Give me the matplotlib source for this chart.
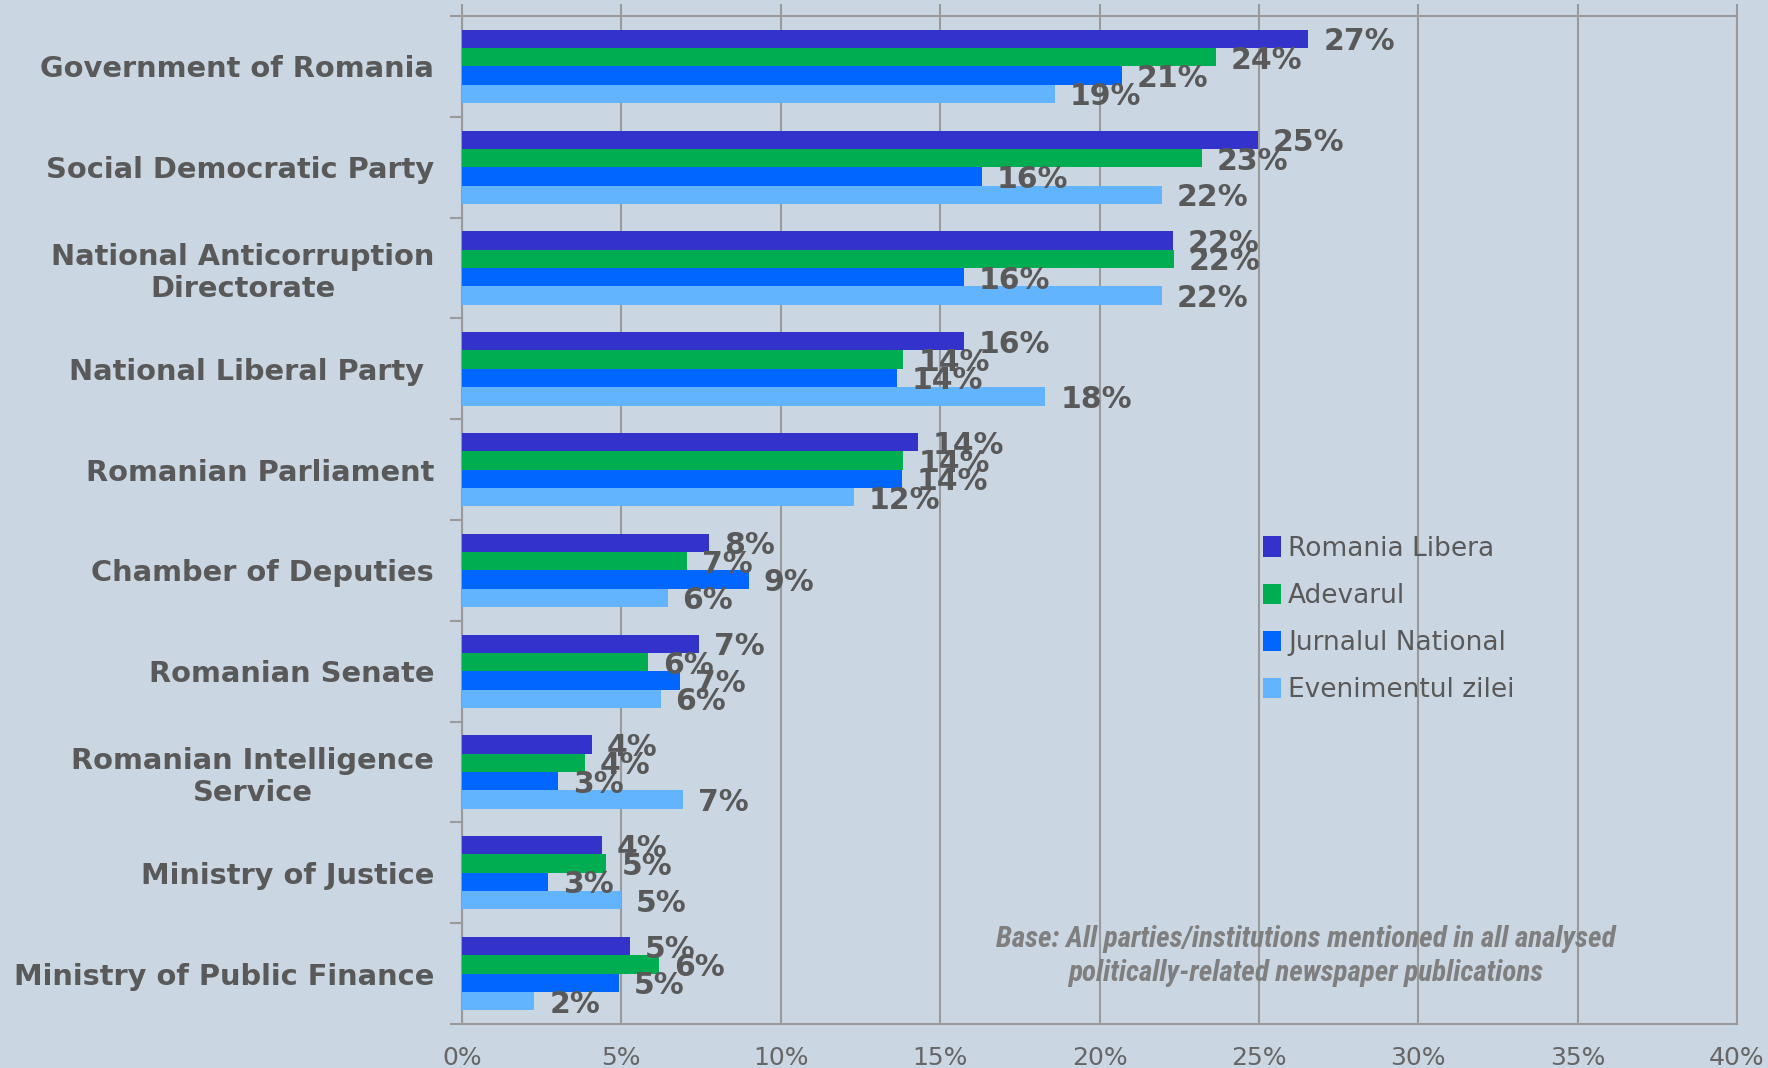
import matplotlib
matplotlib.use("Agg")
import matplotlib.pyplot as plt
import numpy as np
from matplotlib.patches import Patch
from matplotlib import font_manager as fm

categories = ["Government of Romania", "Social Democratic Party",
              "National Anticorruption\nDirectorate", "National Liberal Party ",
              "Romanian Parliament", "Chamber of Deputies", "Romanian Senate",
              "Romanian Intelligence\nService", "Ministry of Justice",
              "Ministry of Public Finance"]
series_names = ["Romania Libera", "Adevarul", "Jurnalul National", "Evenimentul zilei"]
romania_libera = [26.55, 24.96, 22.3, 15.75, 14.3, 7.75, 7.43, 4.07, 4.39, 5.27]
adevarul = [23.65, 23.2, 22.33, 13.85, 13.85, 7.05, 5.84, 3.86, 4.53, 6.19]
jurnalul = [20.7, 16.3, 15.75, 13.65, 13.8, 9.0, 6.83, 3.0, 2.69, 4.92]
evenimentul = [18.6, 21.95, 21.95, 18.3, 12.3, 6.45, 6.23, 6.94, 4.99, 2.27]
xticks = [0, 5, 10, 15, 20, 25, 30, 35, 40]
xtick_labels = ["0%", "5%", "10%", "15%", "20%", "25%", "30%", "35%", "40%"]
footnote = "Base: All parties/institutions mentioned in all analysed\npolitically-related newspaper publications"

colors = ["#3333CC", "#00AD50", "#0066FF", "#63B4FF"]
bg = "#CAD6E2"
grey_text = "#595959"
line_col = "#9A9A9A"

names = sorted({f.name for f in fm.fontManager.ttflist})
narrow = None
for cand in ["Liberation Sans Narrow", "Roboto Condensed", "Open Sans Condensed",
             "DejaVu Sans Condensed"]:
    if cand in names:
        narrow = cand
        break

def narrow_font(**kw):
    if narrow:
        return fm.FontProperties(family=narrow, **kw)
    return fm.FontProperties(family="DejaVu Sans", stretch="condensed", **kw)

fig = plt.figure(figsize=(17.68, 10.68), dpi=100, facecolor=bg)
ax = fig.add_axes([0.2613, 0.0412, 0.9825 - 0.2613, 0.985 - 0.0412])
ax.set_facecolor(bg)

series = [romania_libera, adevarul, jurnalul, evenimentul]
n = len(categories)
h = 0.182
y0 = np.arange(n)
for i, (vals, c, name) in enumerate(zip(series, colors, series_names)):
    ypos = y0 + (i - 1.5) * h
    ax.barh(ypos, vals, height=h, color=c, label=name, zorder=3)
    for y, v in zip(ypos, vals):
        ax.annotate(f"{round(v):.0f}%", (v, y), xytext=(15, -3), textcoords="offset pixels",
                    ha="left", va="center", fontsize=21.5, fontweight="bold",
                    color=grey_text, zorder=5, family="DejaVu Sans")

ax.set_xlim(0, 40)
ax.set_ylim(n - 0.5, -0.5)
ax.set_xticks(xticks)
ax.set_xticklabels(xtick_labels, fontsize=18, family="DejaVu Sans", color="#666666")
ax.xaxis.grid(True, color=line_col, linewidth=1.5, zorder=0)
ax.tick_params(axis="x", which="both", bottom=False, top=True, labelbottom=True,
               labeltop=False, direction="out", length=9, width=1.5, color=line_col, pad=7)

ax.set_yticks(y0)
ax.set_yticklabels(categories, fontsize=20.8, fontweight="bold", color=grey_text,
                   family="DejaVu Sans", multialignment="center")
ax.tick_params(axis="y", which="major", length=0, pad=20)
ax.set_yticks(np.arange(n + 1) - 0.5, minor=True)
ax.tick_params(axis="y", which="minor", length=9, width=1.5, color=line_col, direction="out")

for s in ["top", "bottom", "left", "right"]:
    ax.spines[s].set_color(line_col)
    ax.spines[s].set_linewidth(1.5)

handles = [Patch(facecolor=c, label=nm) for c, nm in zip(colors, series_names)]
leg = ax.legend(handles=handles, loc="upper left", bbox_to_anchor=(0.6095, 0.508),
                frameon=False, fontsize=19, handlelength=0.7, handleheight=0.8,
                handletextpad=0.25, labelspacing=0.8, labelcolor=grey_text)

fig.text(0.7385, 0.105, footnote, ha="center", va="center",
         fontproperties=narrow_font(size=21, weight="bold", style="italic"),
         color="#7F7F7F", linespacing=1.25)

fig.savefig("out.png", dpi=100, facecolor=bg)
